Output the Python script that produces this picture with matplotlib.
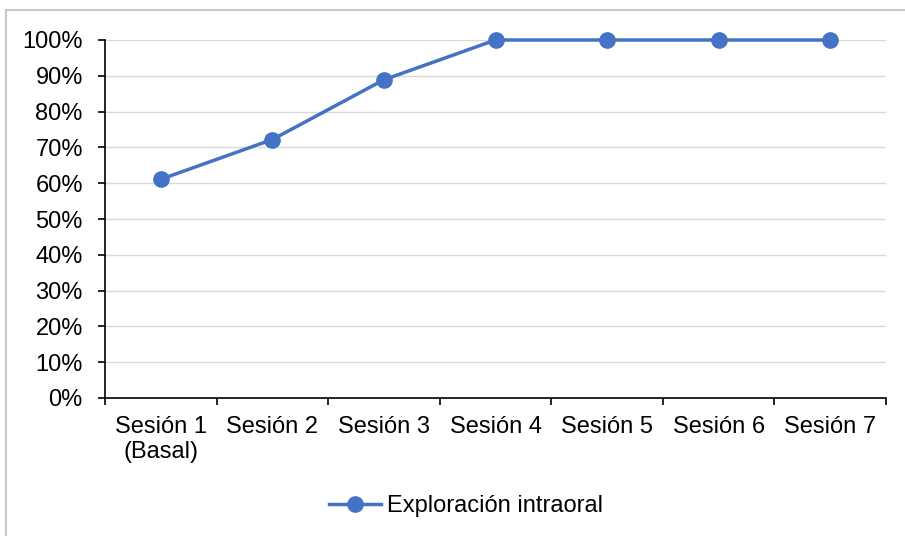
import matplotlib.pyplot as plt
import matplotlib.patches as patches
import numpy as np
from matplotlib.ticker import PercentFormatter

plt.rcParams['font.family'] = ['Liberation Sans', 'DejaVu Sans']

sesiones = ["Sesión 1\n(Basal)", "Sesión 2", "Sesión 3", "Sesión 4",
            "Sesión 5", "Sesión 6", "Sesión 7"]
exploracion = [61.1, 72.2, 88.9, 100, 100, 100, 100]
serie = "Exploración intraoral"

azul = "#4472C4"

fig = plt.figure(figsize=(9.05, 5.36), dpi=100)
ax = fig.add_axes([105/905, 1 - 398/536, (886 - 105)/905, (398 - 40)/536])

x = np.arange(len(sesiones))
ax.plot(x, exploracion, color=azul, lw=2.5, marker="o", markersize=11,
        label=serie, zorder=3, clip_on=False)

ax.set_xlim(-0.5, len(sesiones) - 0.5)
ax.set_ylim(0, 100)
ax.set_yticks(np.arange(0, 101, 10))
ax.yaxis.set_major_formatter(PercentFormatter(decimals=0))

# categorias centradas, marcas entre categorias
ax.set_xticks(np.arange(-0.5, len(sesiones)), minor=False)
ax.set_xticklabels([])
ax.set_xticks(x, minor=True)
ax.set_xticklabels(sesiones, minor=True, linespacing=1.15)
ax.tick_params(axis="x", which="major", length=5, width=1.2, direction="out")
ax.tick_params(axis="x", which="minor", length=0, pad=13, labelsize=17)
ax.tick_params(axis="y", length=5, width=1.2, direction="out", pad=11, labelsize=17)

ax.grid(axis="y", color="#D9D9D9", lw=1.0)
ax.set_axisbelow(True)
for s in ["top", "right"]:
    ax.spines[s].set_visible(False)
for s in ["left", "bottom"]:
    ax.spines[s].set_linewidth(1.2)
    ax.spines[s].set_color("black")

fig.legend(loc="center", bbox_to_anchor=(466/905, 1 - 506/536), frameon=False,
           fontsize=17, handlelength=2.2, handletextpad=0.25)

# borde del grafico
borde = patches.Rectangle((5.5/905, -0.1), 1.2, 1 + 0.1 - 10.5/536,
                          transform=fig.transFigure, fill=False,
                          edgecolor="#C8C8C8", lw=1.5)
fig.patches.append(borde)

fig.savefig("out.png", dpi=100)
